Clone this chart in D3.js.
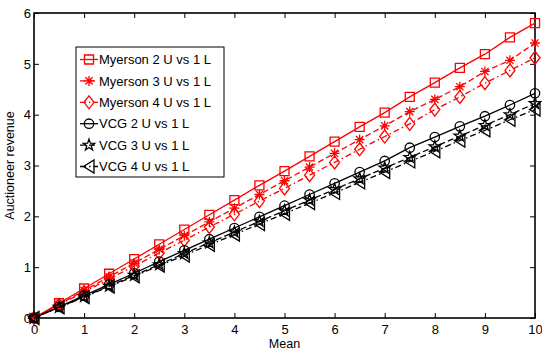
<!DOCTYPE html>
<html>
<head>
<meta charset="utf-8">
<script src="https://cdn.jsdelivr.net/npm/d3@7"></script>
<style>
  html, body { margin: 0; padding: 0; background: #fff; }
  svg { display: block; font-family: "Liberation Sans", Arial, sans-serif; }
</style>
</head>
<body>
<svg id="chart" width="542" height="352"></svg>
<script>
// Mean values on the horizontal axis
const means = [0, 0.5, 1, 1.5, 2, 2.5, 3, 3.5, 4, 4.5, 5, 5.5, 6, 6.5, 7, 7.5, 8, 8.5, 9, 9.5, 10];

// Auctioneer revenue per mechanism
const myerson2 = [0, 0.29, 0.58, 0.87, 1.16, 1.45, 1.74, 2.03, 2.32, 2.61, 2.89, 3.18, 3.47, 3.76, 4.04, 4.35, 4.63, 4.92, 5.19, 5.52, 5.80];
const myerson3 = [0, 0.27, 0.54, 0.81, 1.08, 1.35, 1.62, 1.89, 2.16, 2.43, 2.70, 2.97, 3.24, 3.51, 3.78, 4.06, 4.30, 4.55, 4.85, 5.07, 5.41];
const myerson4 = [0, 0.26, 0.51, 0.77, 1.02, 1.28, 1.53, 1.79, 2.04, 2.30, 2.55, 2.81, 3.06, 3.32, 3.57, 3.82, 4.10, 4.35, 4.62, 4.87, 5.12];
const vcg2 = [0, 0.22, 0.44, 0.66, 0.88, 1.11, 1.33, 1.55, 1.77, 1.99, 2.21, 2.43, 2.65, 2.87, 3.09, 3.35, 3.56, 3.77, 3.97, 4.19, 4.42];
const vcg3 = [0, 0.21, 0.42, 0.63, 0.84, 1.05, 1.27, 1.48, 1.69, 1.90, 2.11, 2.32, 2.53, 2.74, 2.95, 3.16, 3.37, 3.58, 3.79, 4.00, 4.22];
const vcg4 = [0, 0.21, 0.41, 0.62, 0.82, 1.03, 1.23, 1.44, 1.64, 1.85, 2.05, 2.26, 2.46, 2.67, 2.87, 3.08, 3.28, 3.49, 3.69, 3.90, 4.10];

const seriesNames = ["Myerson 2 U vs 1 L", "Myerson 3 U vs 1 L", "Myerson 4 U vs 1 L",
                     "VCG 2 U vs 1 L", "VCG 3 U vs 1 L", "VCG 4 U vs 1 L"];
const seriesValues = [myerson2, myerson3, myerson4, vcg2, vcg3, vcg4];

const xTicks = [0, 1, 2, 3, 4, 5, 6, 7, 8, 9, 10];
const yTicks = [0, 1, 2, 3, 4, 5, 6];

// Visual style per series
const styles = [
  { color: "#ff0000", dash: null,          marker: "square" },
  { color: "#ff0000", dash: "6,3",         marker: "asterisk" },
  { color: "#ff0000", dash: "6,3,1.5,3",   marker: "diamond" },
  { color: "#000000", dash: null,          marker: "circle" },
  { color: "#000000", dash: "6,3",         marker: "pentagram" },
  { color: "#000000", dash: "6,3,1.5,3",   marker: "triangleLeft" }
];

const svg = d3.select("#chart");
const plot = { left: 34, right: 535, top: 13, bottom: 318 };

const x = d3.scaleLinear().domain([0, 10]).range([plot.left, plot.right]);
const y = d3.scaleLinear().domain([0, 6]).range([plot.bottom, plot.top]);

// Marker path generators, centred on the origin
function markerPath(kind) {
  switch (kind) {
    case "square": return "M-4.5,-4.5H4.5V4.5H-4.5Z";
    case "diamond": return "M0,-6.5L5,0L0,6.5L-5,0Z";
    case "circle": return "M4.7,0A4.7,4.7 0 1,1 -4.7,0A4.7,4.7 0 1,1 4.7,0Z";
    case "asterisk": return "M-5,0H5M0,-5V5M-3.6,-3.6L3.6,3.6M-3.6,3.6L3.6,-3.6";
    case "triangleLeft": return "M-5.5,0L5,-6.5L5,6.5Z";
    case "pentagram": {
      const pts = [];
      for (let i = 0; i < 10; i++) {
        const r = i % 2 === 0 ? 6 : 2.4;
        const a = -Math.PI / 2 + i * Math.PI / 5;
        pts.push([r * Math.cos(a), r * Math.sin(a)]);
      }
      return "M" + pts.map(p => p[0].toFixed(2) + "," + p[1].toFixed(2)).join("L") + "Z";
    }
  }
}

// Axes box with inward ticks on all four sides
const axisG = svg.append("g");
const bottomAxis = d3.axisBottom(x).tickValues(xTicks).tickSizeInner(-5).tickSizeOuter(0).tickPadding(7).tickFormat(d3.format("d"));
const topAxis = d3.axisTop(x).tickValues(xTicks).tickSizeInner(-5).tickSizeOuter(0).tickFormat("");
const leftAxis = d3.axisLeft(y).tickValues(yTicks).tickSizeInner(-5).tickSizeOuter(0).tickPadding(3).tickFormat(d3.format("d"));
const rightAxis = d3.axisRight(y).tickValues(yTicks).tickSizeInner(-5).tickSizeOuter(0).tickFormat("");

axisG.append("g").attr("transform", `translate(0,${plot.bottom})`).call(bottomAxis);
axisG.append("g").attr("transform", `translate(0,${plot.top})`).call(topAxis);
axisG.append("g").attr("transform", `translate(${plot.left},0)`).call(leftAxis);
axisG.append("g").attr("transform", `translate(${plot.right},0)`).call(rightAxis);

axisG.selectAll(".domain").remove();
axisG.selectAll(".tick line").attr("stroke", "#000").attr("stroke-width", 1);
axisG.selectAll(".tick text").attr("fill", "#000").style("font-size", "13px")
  .style("font-family", "'Liberation Sans', Arial, sans-serif");

svg.append("rect")
  .attr("x", plot.left).attr("y", plot.top)
  .attr("width", plot.right - plot.left).attr("height", plot.bottom - plot.top)
  .attr("fill", "none").attr("stroke", "#000").attr("stroke-width", 1.6);

// Axis titles
svg.append("text")
  .attr("x", (plot.left + plot.right) / 2).attr("y", 347.5)
  .attr("text-anchor", "middle").style("font-size", "12.5px").text("Mean");
svg.append("text")
  .attr("transform", `translate(14,${(plot.top + plot.bottom) / 2}) rotate(-90)`)
  .attr("text-anchor", "middle").style("font-size", "12.5px").text("Auctioneer revenue");

// Series: line then markers
const line = d3.line().x((d, i) => x(means[i])).y(d => y(d));
const dataG = svg.append("g");
seriesValues.forEach((vals, si) => {
  const st = styles[si];
  const g = dataG.append("g");
  g.append("path")
    .datum(vals)
    .attr("d", line)
    .attr("fill", "none")
    .attr("stroke", st.color)
    .attr("stroke-width", 1.3)
    .attr("stroke-dasharray", st.dash);
  g.selectAll("path.mk")
    .data(vals)
    .join("path")
    .attr("class", "mk")
    .attr("transform", (d, i) => `translate(${x(means[i])},${y(d)})`)
    .attr("d", markerPath(st.marker))
    .attr("fill", "none")
    .attr("stroke", st.color)
    .attr("stroke-width", 1.3);
});

// Legend
const legend = svg.append("g");
const lg = { x: 76, y: 47, w: 148, h: 130, row: 21.4, first: 59.5 };
legend.append("rect")
  .attr("x", lg.x).attr("y", lg.y).attr("width", lg.w).attr("height", lg.h)
  .attr("fill", "#fff").attr("stroke", "#000").attr("stroke-width", 1);
seriesNames.forEach((name, si) => {
  const st = styles[si];
  const cy = lg.first + si * lg.row;
  legend.append("line")
    .attr("x1", lg.x + 4).attr("x2", lg.x + 22).attr("y1", cy).attr("y2", cy)
    .attr("stroke", st.color).attr("stroke-width", 1.3)
    .attr("stroke-dasharray", st.dash);
  legend.append("path")
    .attr("transform", `translate(${lg.x + 13},${cy})`)
    .attr("d", markerPath(st.marker))
    .attr("fill", "none").attr("stroke", st.color).attr("stroke-width", 1.3);
  legend.append("text")
    .attr("x", lg.x + 23).attr("y", cy + 4.6)
    .style("font-size", "13px").attr("fill", "#000").text(name);
});
</script>
</body>
</html>
